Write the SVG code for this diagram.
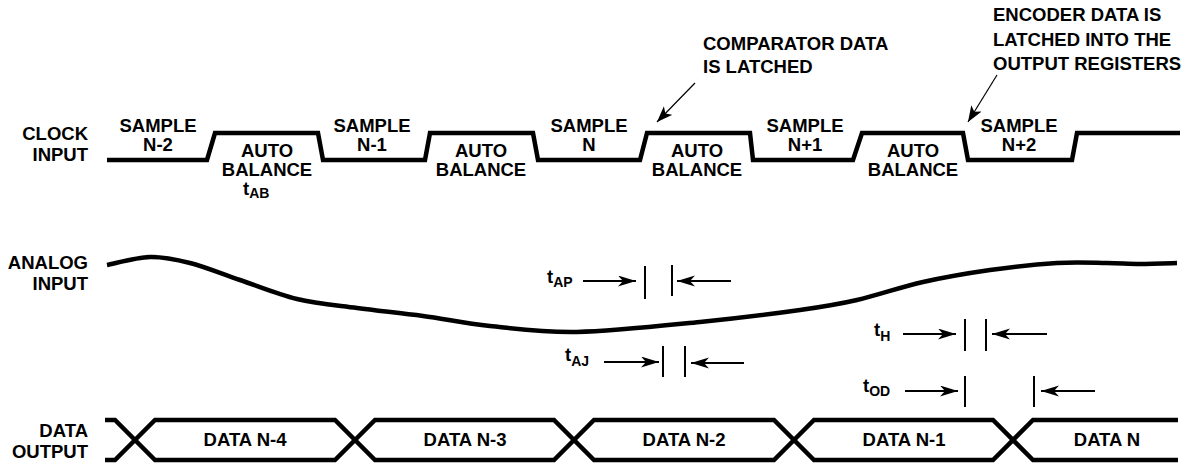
<svg xmlns="http://www.w3.org/2000/svg" width="1194" height="468" viewBox="0 0 1194 468">
<style>
text{font-family:"Liberation Sans",Arial,Helvetica,sans-serif;font-weight:bold;font-size:18.5px;fill:#000}
.r{text-anchor:end}
.m{text-anchor:middle}
.sub{font-size:14px}
.wave{fill:none;stroke:#000;stroke-width:4.5;stroke-linejoin:miter;stroke-linecap:butt}
.bar{stroke:#000;stroke-width:2}
.tarr{stroke:#000;stroke-width:2;fill:none}
.call{stroke:#000;stroke-width:1.2;fill:none}
</style>
<defs>
<marker id="ah" markerUnits="userSpaceOnUse" markerWidth="20" markerHeight="12" refX="18" refY="5.5" orient="auto">
<path d="M0,0 L18,5.5 L0,11 L5,5.5 Z" fill="#000"/>
</marker>
<marker id="ah2" markerUnits="userSpaceOnUse" markerWidth="18" markerHeight="14" refX="16" refY="6.5" orient="auto">
<path d="M0,0.5 L16,6.5 L0,12.5 L4,6.5 Z" fill="#000"/>
</marker>
</defs>
<rect width="1194" height="468" fill="#fff"/>

<g id="labels">
<text class="r" x="88" y="140">CLOCK</text>
<text class="r" x="88" y="161">INPUT</text>
<text class="r" x="88" y="269">ANALOG</text>
<text class="r" x="88" y="290">INPUT</text>
<text class="r" x="88" y="437">DATA</text>
<text class="r" x="88" y="458">OUTPUT</text>
</g>

<g id="clock">
<path class="wave" d="M107,160 L207,160 L215,133 L318,133 L323,160 L425,160 L430,133 L533,133 L538,160 L640,160 L647,133 L750,133 L753,160 L853,160 L862,133 L963,133 L968,160 L1072,160 L1077,133 L1180,133"/>
<text class="m" x="158" y="132">SAMPLE</text><text class="m" x="158" y="151">N-2</text>
<text class="m" x="372" y="132">SAMPLE</text><text class="m" x="372" y="151">N-1</text>
<text class="m" x="589" y="132">SAMPLE</text><text class="m" x="589" y="151">N</text>
<text class="m" x="805" y="132">SAMPLE</text><text class="m" x="805" y="151">N+1</text>
<text class="m" x="1019" y="132">SAMPLE</text><text class="m" x="1019" y="151">N+2</text>
<text class="m" x="267" y="157">AUTO</text><text class="m" x="267" y="176">BALANCE</text>
<text x="243" y="195">t<tspan class="sub" dy="3">AB</tspan></text>
<text class="m" x="481" y="157">AUTO</text><text class="m" x="481" y="176">BALANCE</text>
<text class="m" x="697" y="157">AUTO</text><text class="m" x="697" y="176">BALANCE</text>
<text class="m" x="913" y="157">AUTO</text><text class="m" x="913" y="176">BALANCE</text>
</g>

<g id="callout-comparator">
<text x="703" y="50">COMPARATOR DATA</text>
<text x="703" y="73">IS LATCHED</text>
<line class="call" x1="695" y1="83" x2="657" y2="122" marker-end="url(#ah2)"/>
</g>

<g id="callout-encoder">
<text x="993" y="21">ENCODER DATA IS</text>
<text x="993" y="45.5">LATCHED INTO THE</text>
<text x="993" y="70">OUTPUT REGISTERS</text>
<line class="call" x1="997" y1="75" x2="968" y2="122" marker-end="url(#ah2)"/>
</g>

<g id="analog">
<path class="wave" stroke-linejoin="round" d="M107,265 C114.2,263.7 136.2,257.3 150,257 C163.8,256.7 175,259.2 190,263 C205,266.8 222.2,274 240,280 C257.8,286 277.5,294.3 297,299 C316.5,303.7 336,305.2 357,308 C378,310.8 400.8,313 423,316 C445.2,319 464.3,323.3 490,326 C515.7,328.7 542,332.7 577,332 C612,331.3 662.8,325.7 700,322 C737.2,318.3 773.8,313.7 800,310 C826.2,306.3 836.5,304.7 857,300 C877.5,295.3 900.8,287 923,282 C945.2,277 967.7,273.2 990,270 C1012.3,266.8 1037.5,264.2 1057,263 C1076.5,261.8 1093.2,262.8 1107,263 C1120.8,263.2 1128.3,264 1140,264 C1151.7,264 1170.8,263.2 1177,263"/>
</g>

<g id="timing">
<text x="547" y="283">t<tspan class="sub" dy="4">AP</tspan></text>
<line class="tarr" x1="583" y1="281" x2="636" y2="281" marker-end="url(#ah)"/>
<line class="bar" x1="645" y1="266" x2="645" y2="299"/>
<line class="bar" x1="672" y1="265" x2="672" y2="296"/>
<line class="tarr" x1="731" y1="281" x2="677" y2="281" marker-end="url(#ah)"/>

<text x="565" y="361">t<tspan class="sub" dy="5">AJ</tspan></text>
<line class="tarr" stroke-width="1.5" x1="604" y1="362" x2="659" y2="362" marker-end="url(#ah)"/>
<line class="bar" x1="663" y1="346" x2="663" y2="377"/>
<line class="bar" x1="685" y1="346" x2="685" y2="377"/>
<line class="tarr" x1="744" y1="363" x2="691" y2="363" marker-end="url(#ah)"/>

<text x="874" y="336">t<tspan class="sub" dy="4.5">H</tspan></text>
<line class="tarr" x1="903" y1="334" x2="956" y2="334" marker-end="url(#ah)"/>
<line class="bar" x1="965" y1="319" x2="965" y2="351"/>
<line class="bar" x1="986" y1="319" x2="986" y2="351"/>
<line class="tarr" x1="1047" y1="334" x2="992" y2="334" marker-end="url(#ah)"/>

<text x="863" y="391.5">t<tspan class="sub" dy="4.5">OD</tspan></text>
<line class="tarr" x1="905" y1="391" x2="958" y2="391" marker-end="url(#ah)"/>
<line class="bar" x1="965" y1="376" x2="965" y2="407"/>
<line class="bar" x1="1034" y1="376" x2="1034" y2="407"/>
<line class="tarr" x1="1095" y1="391" x2="1041" y2="391" marker-end="url(#ah)"/>
</g>

<g id="data">
<path class="wave" d="M105,420 L115,420 L155,460 L335,460 L375,420 L554,420 L594,460 L774,460 L814,420 L993,420 L1033,460 L1178,460"/>
<path class="wave" d="M105,460 L115,460 L155,420 L335,420 L375,460 L554,460 L594,420 L774,420 L814,460 L993,460 L1033,420 L1178,420"/>
<text class="m" x="245" y="446">DATA N-4</text>
<text class="m" x="465" y="446">DATA N-3</text>
<text class="m" x="684" y="446">DATA N-2</text>
<text class="m" x="904" y="446">DATA N-1</text>
<text class="m" x="1107" y="446">DATA N</text>
</g>
</svg>
